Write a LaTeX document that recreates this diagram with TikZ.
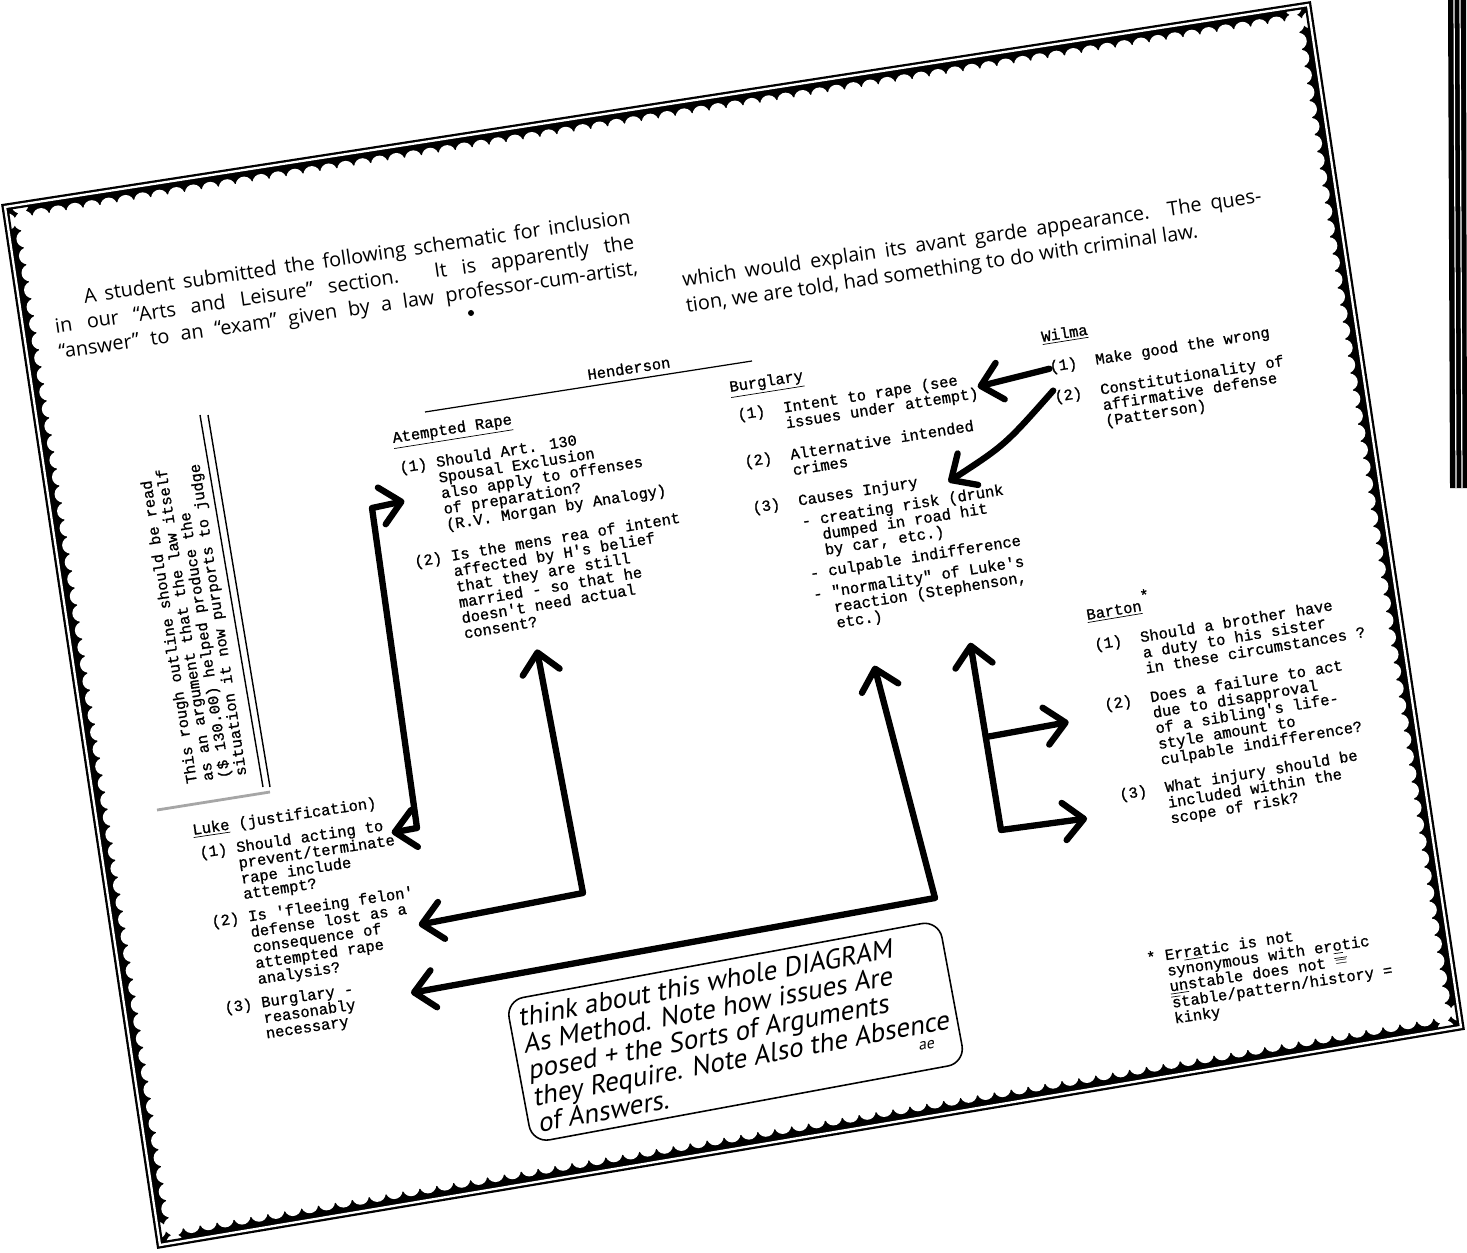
\documentclass[tikz,border=0pt]{standalone}
\usepackage{fontspec}
\newfontfamily\typefont{Liberation Mono}[FakeBold=1]
\newfontfamily\paperfont{Open Sans}[Ligatures=TeX]
\newfontfamily\handfont{PT Sans}[FakeSlant=0.2]
\usetikzlibrary{arrows.meta}

% numbered issue with hanging text
\newcommand\issue[3][1.2em]{\begin{tabular}[t]{@{}l@{\hspace{#1}}l@{}}#2&#3\end{tabular}}
% one justified line of the printed column
\newcommand\colline[1]{\makebox[11.7cm][s]{#1}}

% white bites along one side of the frame
\newcommand\scallop[4]{%
  \pgfmathsetmacro\sclen{100*veclen((#3-#1)/100,(#4-#2)/100)}%
  \pgfmathtruncatemacro\sccnt{\sclen/17}%
  \pgfmathsetmacro\scdx{(#3-#1)/\sccnt}%
  \pgfmathsetmacro\scdy{(#4-#2)/\sccnt}%
  \pgfmathsetmacro\scnx{-(#4-#2)/\sclen}%
  \pgfmathsetmacro\scny{(#3-#1)/\sclen}%
  \foreach \k in {0,...,\sccnt}{%
    \fill[white] ({#1+\scdx*\k+15*\scnx},{#2+\scdy*\k+15*\scny}) circle[radius=0.17cm];
  }}

\begin{document}
\begin{tikzpicture}[x=0.02cm, y=-0.02cm,
    tw/.style={font=\typefont\fontsize{8.8}{8.8}\selectfont, inner sep=0pt,
               anchor=base west, rotate=#1},
    tw/.default=9,
    prose/.style={font=\paperfont\fontsize{11.3}{14.6}\selectfont, inner sep=0pt,
                  anchor=base west, rotate=8.3},
    notebox/.style={draw, rounded corners=0.35cm, line width=0.9pt, align=left,
                    font=\handfont\fontsize{15.5}{15.3}\selectfont, inner sep=5pt},
    ink/.style={line width=3.6pt, line cap=round, line join=round},
    >={Straight Barb[length=0.4cm, width=0.75cm, round]}
  ]
  \fill[white] (0,0) rectangle (1467,1253);
  \useasboundingbox (0,0) rectangle (1467,1253);

  % scalloped frame
  \coordinate (fTL) at (5,207);
  \coordinate (fTR) at (1308,5);
  \coordinate (fBR) at (1461,1027);
  \coordinate (fBL) at (160,1245);
  \begin{scope}
    \clip (fTL) -- (fTR) -- (fBR) -- (fBL) -- cycle;
    \draw[line width=0.5cm] (fTL) -- (fTR) -- (fBR) -- (fBL) -- cycle;
    \scallop{5}{207}{1308}{5}
    \scallop{1308}{5}{1461}{1027}
    \scallop{1461}{1027}{160}{1245}
    \scallop{160}{1245}{5}{207}
  \end{scope}
  \draw[line width=1.3pt, double=white, double distance=1.3pt]
    (fTL) -- (fTR) -- (fBR) -- (fBL) -- cycle;

  % edge of the next page
  \fill (1448,0) -- (1466,0) -- (1467,488) -- (1450,488) -- cycle;
  \draw[white, line width=0.7pt] (1454,0) -- (1456,488) (1460,0) -- (1462,488);

  % printed introduction
  \node[prose] (intro) at (52,308) {\begin{tabular}[t]{@{}l@{}}
    \colline{\hspace*{0.66cm}A student submitted the following schematic for inclusion}\\
    \colline{in our ``Arts and Leisure'' section. It is apparently the}\\
    \colline{``answer'' to an ``exam'' given by a law professor-cum-artist,}\end{tabular}};
  \fill (471,313) circle[radius=0.06cm];
  \node[prose] (introtwo) at (683,287) {\begin{tabular}[t]{@{}l@{}}
    \colline{which would explain its avant garde appearance. The ques-}\\
    tion, we are told, had something to do with criminal law.\end{tabular}};

  % Henderson
  \node[tw=8.7] (hend) at (588,380) {Henderson};
  \draw[line width=0.7pt] (425,412) -- (752,361);

  % Atempted Rape
  \node[tw] (arH) at (393,443) {\underline{Atempted Rape}};
  \node[tw] (ar1) at (400,473) {\issue[.6em]{(1)}{Should Art. 130\\&Spousal Exclusion\\
    &also apply to offenses\\&of preparation?\\&(R.V. Morgan by Analogy)}};
  \node[tw=9.5] (ar2) at (415,567) {\issue[.6em]{(2)}{Is the mens rea of intent\\
    &affected by H's belief\\&that they are still\\&married - so that he\\
    &doesn't need actual\\&consent?}};

  % Burglary
  \node[tw] (bgH) at (730,392) {\underline{Burglary}};
  \node[tw] (bg1) at (738,420) {\issue{(1)}{Intent to rape (see\\&issues under attempt)}};
  \node[tw] (bg2) at (745,467) {\issue{(2)}{Alternative intended\\&crimes}};
  \node[tw] (bg3) at (753,513) {\issue{(3)}{Causes Injury\\[3pt]
    &- creating risk (drunk\\&\hphantom{- }dumped in road hit\\&\hphantom{- }by car, etc.)\\[3pt]
    &- culpable indifference\\[3pt]
    &- "normality" of Luke's\\&\hphantom{- }reaction (Stephenson,\\&\hphantom{- }etc.)}};

  % Wilma
  \node[tw] (wlH) at (1042,342) {\underline{Wilma}};
  \node[tw] (wl1) at (1050,372) {\issue{(1)}{Make good the wrong}};
  \node[tw] (wl2) at (1055,402) {\issue{(2)}{Constitutionality of\\&affirmative defense\\&(Patterson)}};

  % Barton
  \node[tw=9.5] (btH) at (1087,620) {\underline{Barton}\rlap{\raisebox{1.2ex}{*}}};
  \node[tw=9.5] (bt1) at (1095,650) {\issue{(1)}{Should a brother have\\
    &a duty to his sister\\&in these circumstances ?}};
  \node[tw=9.5] (bt2) at (1105,710) {\issue{(2)}{Does a failure to act\\
    &due to disapproval\\&of a sibling's life-\\&style amount to\\&culpable indifference?}};
  \node[tw=9.5] (bt3) at (1120,800) {\issue{(3)}{What injury should be\\
    &included within the\\&scope of risk?}};

  % Luke
  \node[tw=8.5] (lkH) at (193,835) {\underline{Luke} (justification)};
  \node[tw=8.5] (lk1) at (200,858) {\issue[.6em]{(1)}{Should acting to\\
    &prevent/terminate\\&rape include\\&attempt?}};
  \node[tw=8.5] (lk2) at (212,927) {\issue[.6em]{(2)}{Is 'fleeing felon'\\
    &defense lost as a\\&consequence of\\&attempted rape\\&analysis?}};
  \node[tw=8.5] (lk3) at (225,1013) {\issue[.6em]{(3)}{Burglary -\\&reasonably\\&necessary}};

  % sideways remark
  \node[tw=98.6] (rough) at (197,783) {\renewcommand{\arraystretch}{1.08}%
    \begin{tabular}[t]{@{}l@{}}This rough outline should be read\\
    as an argument that the law itself\\(\$ 130.00) helped produce the\\
    situation it now purports to judge\end{tabular}};
  \draw[line width=0.8pt] (200,415) -- (263,787) (208,415) -- (270,787);
  \draw[gray!70, line width=1.6pt] (157,810) -- (270,792);

  % footnote
  \node[tw=8.5] (erratic) at (1147,963) {\issue[.6em]{*}{Er\underline{ra}tic is not\\
    &synonymous with er\underline{o}tic\\&\underline{un}stable does not $\overline{=}$\\
    &$\overline{\mbox{s}}$table/pattern/history =\\&kinky}};

  % handwritten note
  \node[notebox, rotate=10.5, anchor=north west] (note) at (505,1000)
    {think about this whole DIAGRAM\\As Method. Note how issues Are\\
     posed + the Sorts of Arguments\\they Require. Note Also the Absence\\of Answers.};
  \node[font=\handfont\small, rotate=10.5] (init) at ([shift={(-40,-18)}]note.south east) {ae};

  % hand-drawn arrows
  \coordinate (aTop) at (372,508);
  \coordinate (aBot) at (417,828);
  \draw[ink,<->] (ar1.west) -- (aTop) -- (aBot) -- ([shift={(0,15)}]lk1.north east);
  \coordinate (bCorner) at (583,893);
  \draw[ink,<->] ([shift={(-25,22)}]ar2.south) -- (bCorner) -- (lk2.east);
  \coordinate (cCorner) at (935,898);
  \draw[ink,<->] ([shift={(-28,43)}]bg3.south) -- (cCorner) -- ([shift={(55,-13)}]lk3.east);
  \coordinate (dMid) at (986,737);
  \coordinate (dBot) at (1001,830);
  \draw[ink,<->] ([shift={(68,20)}]bg3.south) -- (dBot) -- ([shift={(-35,6)}]bt3.west);
  \draw[ink,->] (dMid) -- ([shift={(-41,-16)}]bt2.west);
  \draw[ink,->] (wl1.west) -- (bg1.east);
  \draw[ink,->] (wl2.north west) .. controls (1005,445) .. ([shift={(-60,21)}]bg3.north east);
\end{tikzpicture}
\end{document}
